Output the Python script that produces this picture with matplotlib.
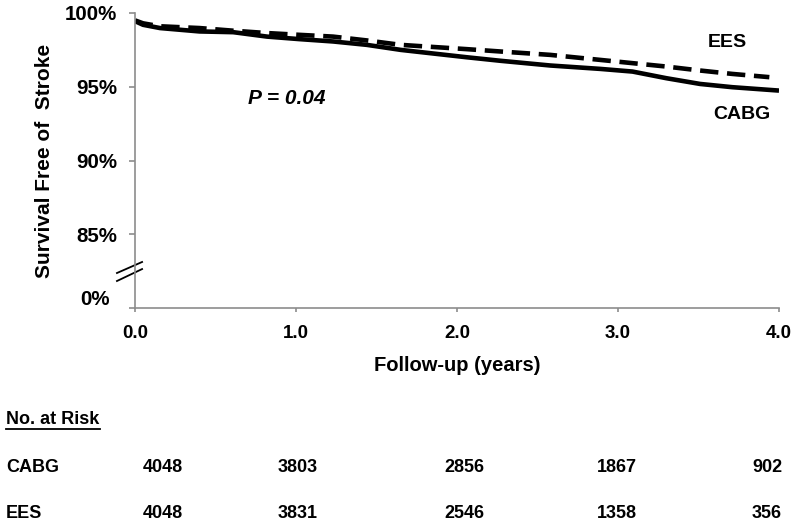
import matplotlib.pyplot as plt
from matplotlib.lines import Line2D

plt.rcParams['font.family'] = ['Liberation Sans', 'DejaVu Sans']
plt.rcParams['font.weight'] = 'bold'

# survival curves (years, % free of stroke)
cabg_t = [0.0, 0.05, 0.155, 0.40, 0.61, 0.82, 1.02, 1.23, 1.44, 1.65, 2.06,
          2.27, 2.58, 2.89, 3.09, 3.30, 3.51, 3.71, 4.0]
cabg_s = [99.45, 99.2, 98.98, 98.75, 98.7, 98.4, 98.23, 98.07, 97.84, 97.5, 97.0,
          96.76, 96.44, 96.21, 96.03, 95.58, 95.19, 94.97, 94.74]

ees_t = [0.0, 0.05, 0.155, 0.40, 0.61, 0.82, 1.02, 1.23, 1.44, 1.65, 2.06,
         2.27, 2.58, 2.89, 3.09, 3.30, 3.51, 3.71, 3.94]
ees_s = [99.5, 99.3, 99.1, 98.98, 98.8, 98.64, 98.52, 98.4, 98.14, 97.84, 97.55,
         97.39, 97.16, 96.82, 96.6, 96.37, 96.1, 95.87, 95.65]

x_ticks = [0, 1, 2, 3, 4]
x_labels = ['0.0', '1.0', '2.0', '3.0', '4.0']
y_ticks = [80, 85, 90, 95, 100]
y_labels = ['', '85%', '90%', '95%', '100%']

# number at risk table
risk_groups = ['CABG', 'EES']
risk_cabg = [4048, 3803, 2856, 1867, 902]
risk_ees = [4048, 3831, 2546, 1358, 356]
risk_x = [163, 298, 464, 617, 767]  # pixel centres of the columns

W, H = 800, 527
fig = plt.figure(figsize=(W / 100, H / 100), dpi=100)
ax = fig.add_axes([135 / W, 1 - 308 / H, 644 / W, 295 / H])

ax.plot(cabg_t, cabg_s, color='black', lw=3.3, solid_capstyle='butt')
ax.plot(ees_t, ees_s, color='black', lw=3.3, dashes=(4.0, 1.9), dash_capstyle='butt')

ax.set_xlim(0, 4)
ax.set_ylim(80, 100)
ax.set_xticks(x_ticks)
ax.set_xticklabels(x_labels, fontsize=13.5, fontweight='bold')
ax.set_yticks(y_ticks)
ax.set_yticklabels(y_labels, fontsize=14.8, fontweight='bold')

grey = '#8c8c8c'
for s in ['top', 'right']:
    ax.spines[s].set_visible(False)
for s in ['left', 'bottom']:
    ax.spines[s].set_color(grey)
    ax.spines[s].set_linewidth(1.2)
ax.tick_params(axis='y', direction='out', length=4.5, width=1.2, color=grey, pad=8.5)
ax.tick_params(axis='x', direction='out', length=3, width=1.2, color=grey, pad=9)

# the "0%" label sits a little off its tick
ax.annotate('0%', xy=(0, 80), xycoords=('axes fraction', 'data'),
            xytext=(-18, 5.8), textcoords='offset points',
            ha='right', va='center', fontsize=14.8, fontweight='bold')

# axis break marks
for y0, y1 in [(0.1186, 0.156), (0.0915, 0.132)]:
    ax.plot([-0.028, 0.011], [y0, y1], transform=ax.transAxes, color='black',
            lw=1.3, clip_on=False)

ax.set_ylabel('Survival Free of  Stroke', fontsize=15, fontweight='bold', labelpad=8)
ax.set_xlabel('Follow-up (years)', fontsize=14.5, fontweight='bold', labelpad=10)

ax.text(3.68, 97.98, 'EES', ha='center', va='center', fontsize=14, fontweight='bold')
ax.text(3.77, 93.1, 'CABG', ha='center', va='center', fontsize=14, fontweight='bold')
ax.text(0.945, 94.18, 'P = 0.04', ha='center', va='center', fontsize=15,
        fontweight='bold', fontstyle='italic')

# number at risk
fig.text(6 / W, 1 - 419 / H, 'No. at Risk', ha='left', va='center', fontsize=13, fontweight='bold')
fig.add_artist(Line2D([6 / W, 100 / W], [1 - 429 / H, 1 - 429 / H], color='black', lw=1.3))

rows = [risk_cabg, risk_ees]
row_y = [467, 513]
for name, vals, py in zip(risk_groups, rows, row_y):
    fig.text(6 / W, 1 - py / H, name, ha='left', va='center', fontsize=13, fontweight='bold')
    for px, v in zip(risk_x, vals):
        fig.text(px / W, 1 - (py + 1) / H, str(v), ha='center', va='center',
                 fontsize=13, fontweight='bold')

fig.savefig('out.png', dpi=100)
